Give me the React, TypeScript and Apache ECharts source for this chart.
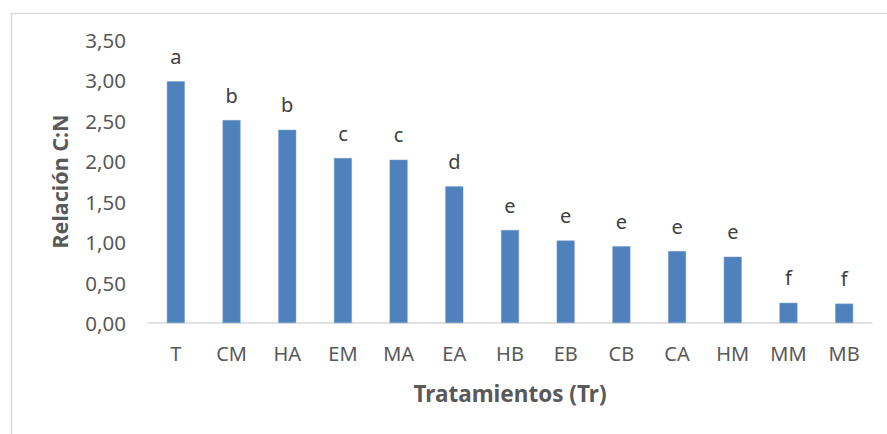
import React, { useEffect, useRef } from "react";
import * as echarts from "echarts";

const categories = ["T", "CM", "HA", "EM", "MA", "EA", "HB", "EB", "CB", "CA", "HM", "MM", "MB"];
const values = [2.99, 2.51, 2.39, 2.04, 2.02, 1.69, 1.15, 1.02, 0.95, 0.89, 0.82, 0.25, 0.24];
const letters = ["a", "b", "b", "c", "c", "d", "e", "e", "e", "e", "e", "f", "f"];
const yTitle = "Relación C:N";
const xTitle = "Tratamientos (Tr)";

export default function App() {
  const ref = useRef<HTMLDivElement>(null);
  useEffect(() => {
    if (!ref.current) return;
    const chart = echarts.init(ref.current, undefined, { renderer: "svg" });
    const font = "'Noto Sans', sans-serif";
    chart.setOption({
      animation: false,
      backgroundColor: "#ffffff",
      graphic: [
        {
          type: "rect",
          left: 9,
          top: 11,
          shape: { width: 900, height: 450 },
          style: { fill: "none", stroke: "#D9D9D9", lineWidth: 1.5 },
          silent: true,
        },
      ],
      grid: { left: 148, right: 15, top: 40, bottom: 111 },
      xAxis: {
        type: "category",
        data: categories,
        axisLine: { show: true, lineStyle: { color: "#D9D9D9", width: 1.5 } },
        axisTick: { show: false },
        axisLabel: { color: "#595959", fontSize: 20, fontFamily: font, margin: 20 },
        name: xTitle,
        nameLocation: "middle",
        nameGap: 59,
        nameTextStyle: { color: "#595959", fontSize: 22.5, fontWeight: "bold", fontFamily: font },
      },
      yAxis: {
        type: "value",
        min: 0,
        max: 3.5,
        interval: 0.5,
        axisLine: { show: false },
        axisTick: { show: false },
        splitLine: { show: false },
        axisLabel: {
          color: "#595959",
          fontSize: 20.5,
          fontFamily: font,
          margin: 22,
          formatter: (v: number) => v.toFixed(2).replace(".", ","),
        },
        name: yTitle,
        nameLocation: "middle",
        nameGap: 78,
        nameTextStyle: { color: "#595959", fontSize: 21.5, fontWeight: "bold", fontFamily: font },
      },
      series: [
        {
          type: "bar",
          data: values,
          barWidth: 18,
          itemStyle: { color: "#4F81BD", borderColor: "#7DA2D0", borderWidth: 0.5 },
          label: {
            show: true,
            position: "top",
            distance: 15,
            color: "#404040",
            fontSize: 20,
            fontFamily: font,
            formatter: (p: any) => letters[p.dataIndex],
          },
        },
      ],
    });
    return () => chart.dispose();
  }, []);
  return (
    <div
      ref={ref}
      style={{ position: "fixed", left: 0, top: 0, width: 887, height: 434 }}
    />
  );
}
